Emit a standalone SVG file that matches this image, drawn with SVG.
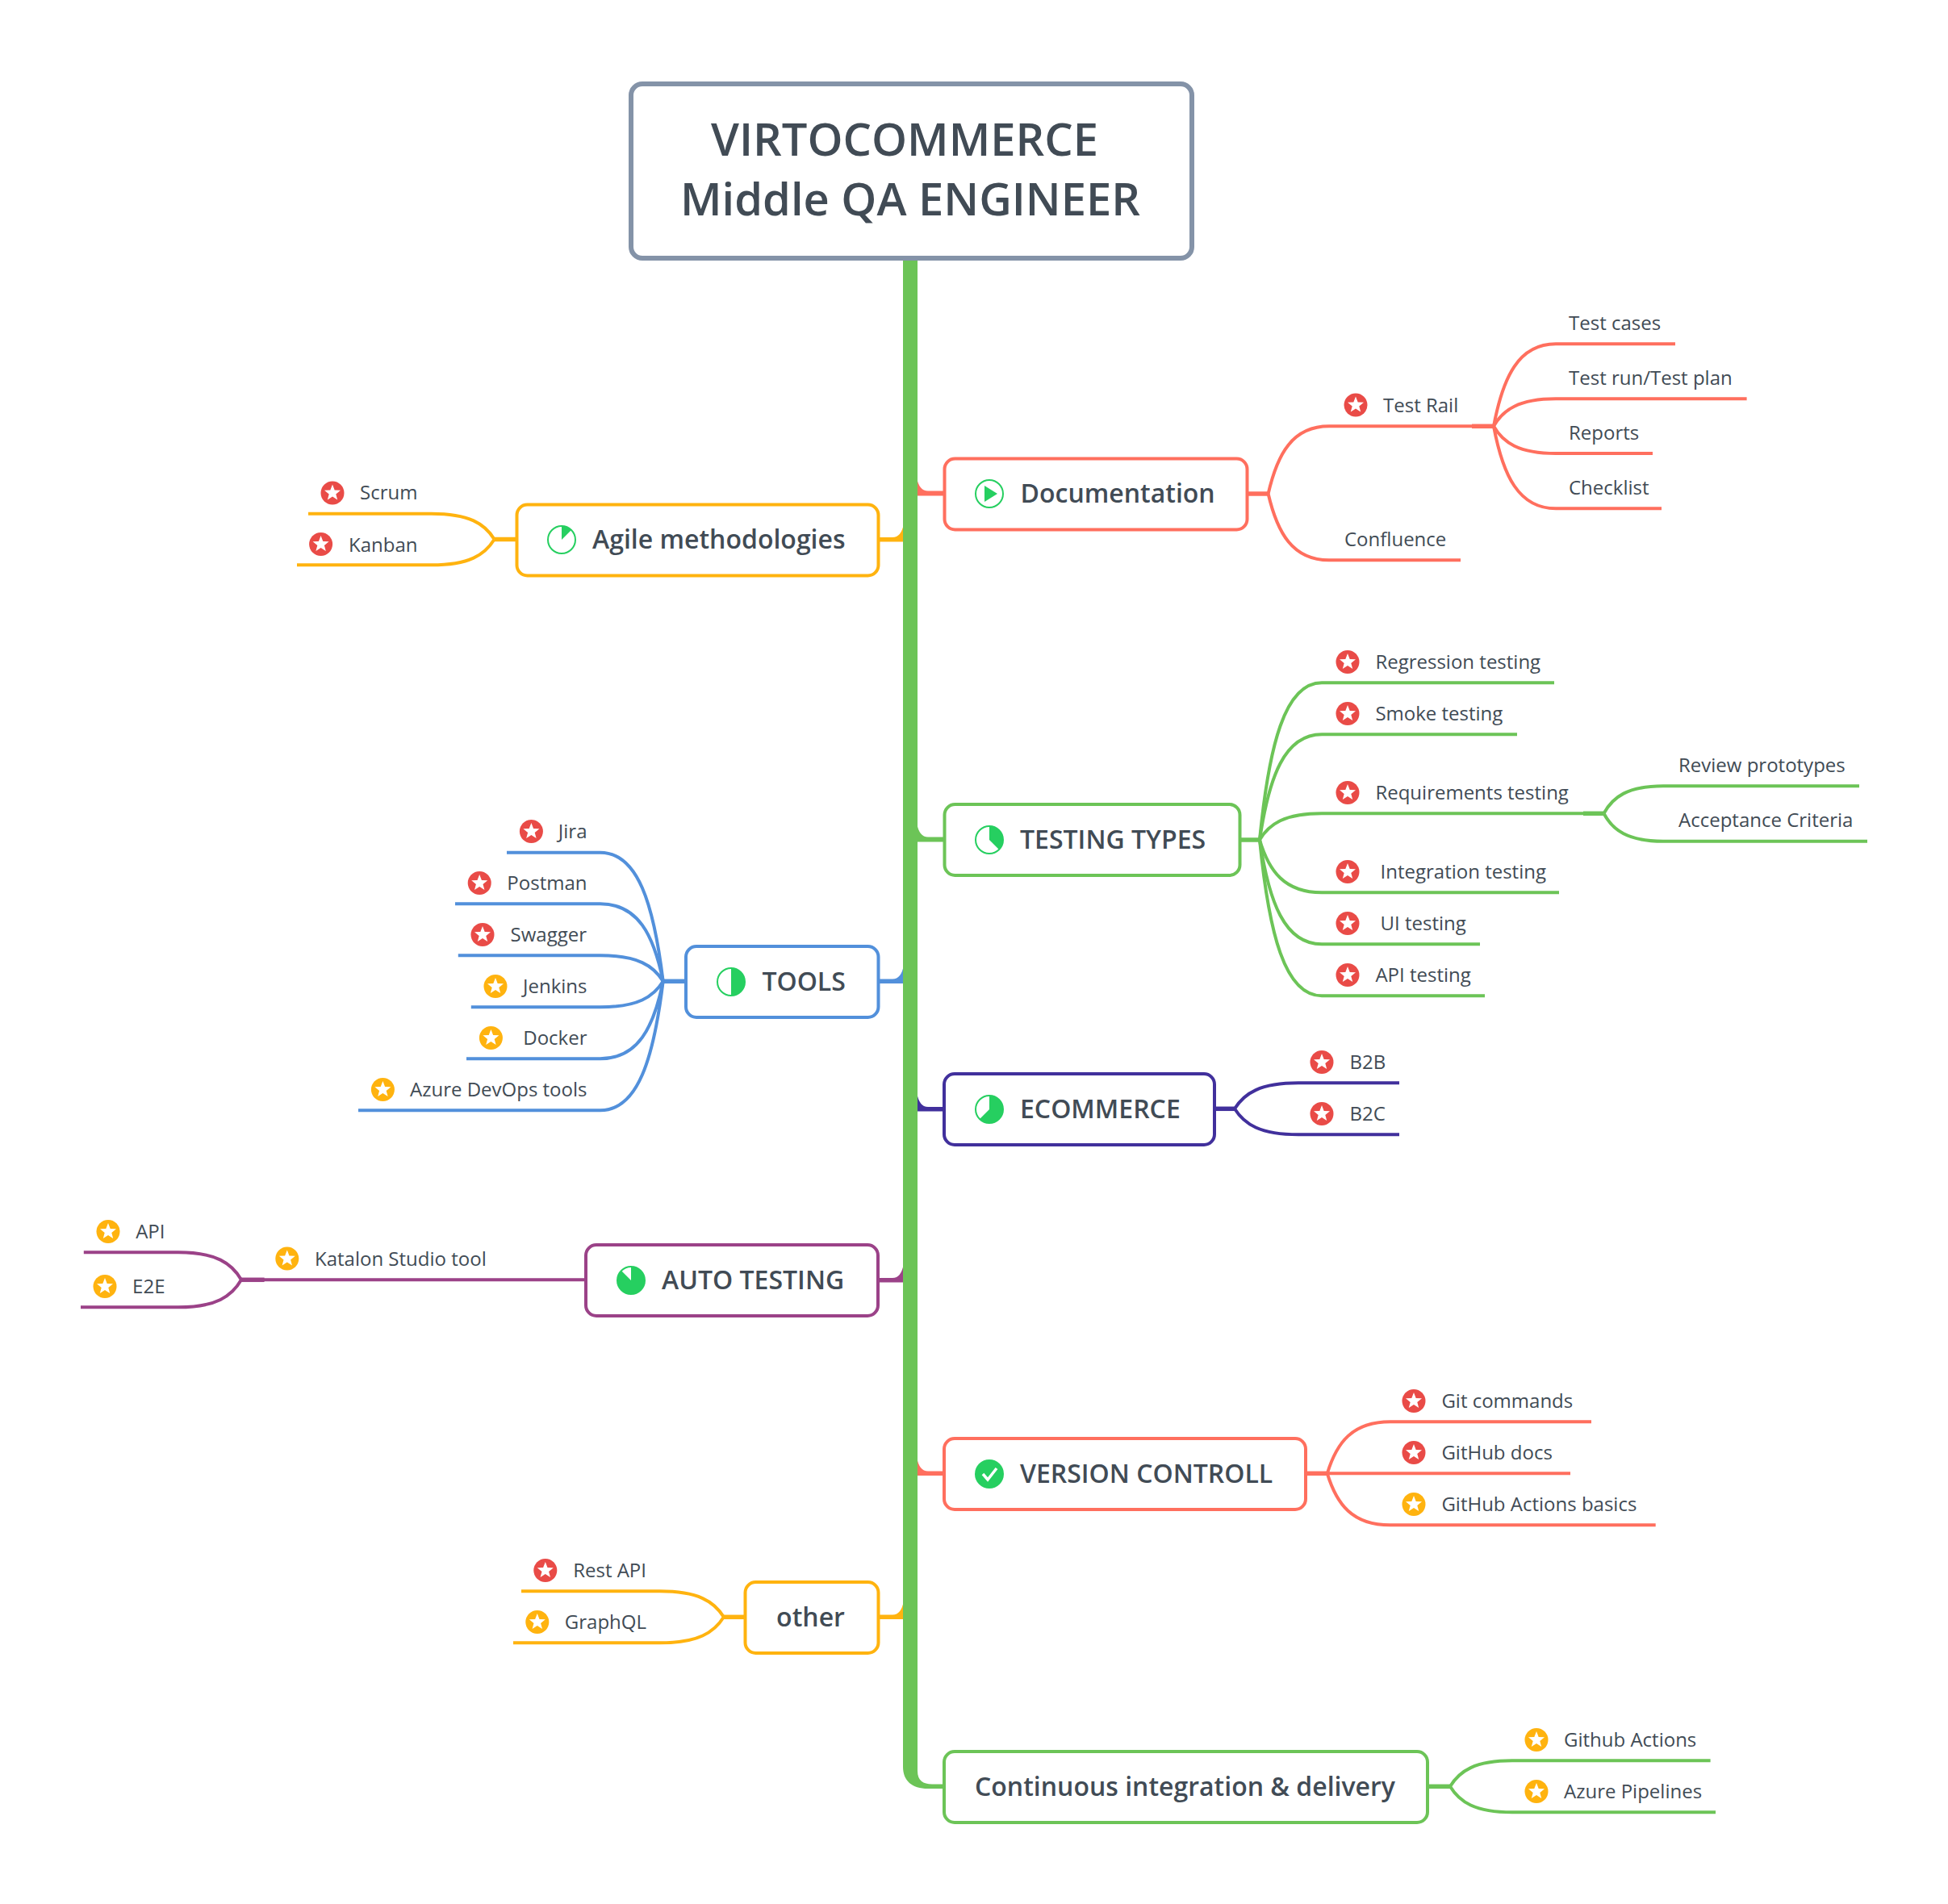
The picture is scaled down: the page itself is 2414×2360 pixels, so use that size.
<svg xmlns="http://www.w3.org/2000/svg" xmlns:xlink="http://www.w3.org/1999/xlink" width="2414" height="2360" viewBox="0 0 2414 2360">
<style>
text{font-family:"Open Sans","Noto Sans","Liberation Sans",sans-serif;fill:#414B55}
.leaf{font-size:24px;font-weight:400}
.end{text-anchor:end}
.topic{font-size:32px;font-weight:600}
.title{font-size:56px;font-weight:600;text-anchor:middle}
.box{fill:#fff;stroke-width:4}
.line{fill:none;stroke-width:4}
.stub{fill:none;stroke-width:5.5}
.coral{stroke:#FF6F5E}.amber{stroke:#FFB30F}.green{stroke:#6CC457}.blue{stroke:#5290DB}.navy{stroke:#41309C}.plum{stroke:#9B4288}
.fcoral{fill:#FF6F5E}.famber{fill:#FFB30F}.fgreen{fill:#6CC457}.fblue{fill:#5290DB}.fnavy{fill:#41309C}.fplum{fill:#9B4288}
.pr{fill:#fff;stroke:#26CF60;stroke-width:2}
.prf{fill:#26CF60}
</style>
<defs>
<polygon id="starshape" points="0,-10.5 2.7,-3.5 10,-3.2 4.3,1.4 6.2,8.5 0,4.5 -6.2,8.5 -4.3,1.4 -10,-3.2 -2.7,-3.5" fill="#fff"/>
<g id="sr"><circle r="14.5" fill="#E94B47"/><use xlink:href="#starshape" href="#starshape"/></g>
<g id="so"><circle r="14.5" fill="#FFB30F"/><use xlink:href="#starshape" href="#starshape"/></g>
</defs>
<rect width="2414" height="2360" fill="#fff"/>
<g id="connectors">
<g class="fcoral">
<path d="M1170 608.5H1150Q1139 608.5 1136 592V614.5H1170Z"/>
<path d="M1170 1823.5H1150Q1139 1823.5 1136 1806V1829H1170Z"/>
</g>
<path class="fgreen" d="M1170 1037.5H1150Q1139 1037.5 1136 1020V1043.5H1170Z"/>
<path class="fnavy" d="M1170 1372H1150Q1139 1372 1136 1354V1377.5H1170Z"/>
<path class="famber" d="M1088 666H1106Q1117 666 1120 649V671.5H1088Z"/>
<path class="fblue" d="M1088 1213.5H1106Q1117 1213.5 1120 1196V1219H1088Z"/>
<path class="fplum" d="M1088 1584H1106Q1117 1584 1120 1566V1589.5H1088Z"/>
<path class="famber" d="M1088 2001.5H1106Q1117 2001.5 1120 1984V2007H1088Z"/>
<path class="fgreen" d="M1119 320H1137V2195C1137 2207 1144 2211.5 1155 2211.5H1172V2217H1150C1130 2217 1119 2207 1119 2190Z"/>
<g class="coral">
<path class="stub" d="M1546 612H1572"/>
<path class="line" d="M1571.6 612C1583 562 1602 528.3 1647 528.3H1824"/>
<path class="line" d="M1571.6 612C1583 661 1602 694.3 1647 694.3H1810"/>
<path class="stub" d="M1824 528.3H1851"/>
<path class="line" d="M1851 528.3C1862.5 467 1882 426.3 1928 426.3H2076"/>
<path class="line" d="M1851 528.3C1862.5 508 1882 494.3 1928 494.3H2164.6"/>
<path class="line" d="M1851 528.3C1862.5 548.5 1882 562 1928 562H2048"/>
<path class="line" d="M1851 528.3C1862.5 589.5 1882 630.3 1928 630.3H2059"/>
<path class="stub" d="M1618 1826.3H1645"/>
<path class="line" d="M1644.8 1826.3C1656.5 1787.9 1676 1762.3 1722.7 1762.3H1972"/>
<path class="line" d="M1644.8 1826.3H1946"/>
<path class="line" d="M1644.8 1826.3C1656.5 1864.7 1676 1890.3 1722.7 1890.3H2051.7"/>
</g>
<g class="green">
<path class="stub" d="M1537 1041H1561"/>
<path class="line" d="M1561 1041C1572.5 924 1592 846.3 1638 846.3H1926"/>
<path class="line" d="M1561 1041C1572.5 962.6 1592 910.3 1638 910.3H1880"/>
<path class="line" d="M1561 1041C1572.5 1021.4 1592 1008.3 1638 1008.3H1962"/>
<path class="line" d="M1561 1041C1572.5 1080 1592 1106.3 1638 1106.3H1932"/>
<path class="line" d="M1561 1041C1572.5 1118.6 1592 1170.3 1638 1170.3H1834"/>
<path class="line" d="M1561 1041C1572.5 1157 1592 1234.3 1638 1234.3H1840"/>
<path class="stub" d="M1962 1008.3H1987.5"/>
<path class="line" d="M1987.5 1008.3C1998.5 987.9 2017 974.3 2061 974.3H2304"/>
<path class="line" d="M1987.5 1008.3C1998.5 1029 2017 1042.7 2061 1042.7H2314"/>
<path class="stub" d="M1769 2214.3H1797"/>
<path class="line" d="M1797 2214.3C1808.6 2195 1827.8 2182.3 1874 2182.3H2119.6"/>
<path class="line" d="M1797 2214.3C1808.6 2233.5 1827.8 2246.3 1874 2246.3H2126"/>
</g>
<g class="amber">
<path class="stub" d="M640 668.5H612.6"/>
<path class="line" d="M612.6 668.5C600.9 649.4 581.5 636.7 534.7 636.7H382"/>
<path class="line" d="M612.6 668.5C600.9 687.6 581.5 700.3 534.7 700.3H368"/>
<path class="stub" d="M923 2004.3H896.9"/>
<path class="line" d="M896.9 2004.3C885 1985 865.2 1972.3 817.7 1972.3H646"/>
<path class="line" d="M896.9 2004.3C885 2023.5 865.2 2036.3 817.7 2036.3H636"/>
</g>
<g class="blue">
<path class="stub" d="M850 1216.3H821.7"/>
<path class="line" d="M821.7 1216.3C810 1120.5 790.5 1056.7 743.8 1056.7H628"/>
<path class="line" d="M821.7 1216.3C810 1158.7 790.5 1120.3 743.8 1120.3H564"/>
<path class="line" d="M821.7 1216.3C810 1197 790.5 1184.3 743.8 1184.3H567.8"/>
<path class="line" d="M821.7 1216.3C810 1235.5 790.5 1248.3 743.8 1248.3H583.8"/>
<path class="line" d="M821.7 1216.3C810 1273.9 790.5 1312.3 743.8 1312.3H578"/>
<path class="line" d="M821.7 1216.3C810 1312.3 790.5 1376.3 743.8 1376.3H444"/>
</g>
<g class="navy">
<path class="stub" d="M1505 1374.3H1530"/>
<path class="line" d="M1530 1374.3C1541.9 1355 1561.6 1342.3 1609 1342.3H1734"/>
<path class="line" d="M1530 1374.3C1541.9 1393.5 1561.6 1406.3 1609 1406.3H1734"/>
</g>
<g class="plum">
<path class="line" d="M726 1586.3H327"/>
<path class="stub" d="M327.6 1586.3H299"/>
<path class="line" d="M299 1586.3C287.3 1565.9 267.8 1552.3 220.9 1552.3H103.8"/>
<path class="line" d="M299 1586.3C287.3 1606.7 267.8 1620.3 220.9 1620.3H100"/>
</g>
</g>
<g id="root"><rect x="782" y="104" width="695" height="216" rx="14" fill="#fff" stroke="#8493A8" stroke-width="6"/><text class="title" x="1121" y="192.5">VIRTOCOMMERCE</text><text class="title" x="1128" y="266.5">Middle QA ENGINEER</text></g>
<g id="documentation"><rect class="box coral" x="1170.5" y="568.5" width="375" height="88" rx="13"/><circle class="pr" cx="1226" cy="612" r="17"/><polygon class="prf" points="1220,602 1220,622 1236,612"/><text class="topic" x="1264.5" y="623">Documentation</text></g>
<g id="agile"><rect class="box amber" x="640.5" y="625.5" width="448" height="88" rx="13"/><circle class="pr" cx="696" cy="669" r="17"/><path class="prf" d="M696 669V652A17 17 0 0 1 708 657Z"/><text class="topic" x="734" y="680">Agile methodologies</text></g>
<g id="testing-types"><rect class="box green" x="1170.5" y="997" width="366" height="88" rx="13"/><circle class="pr" cx="1226" cy="1041" r="17"/><path class="prf" d="M1226 1041V1024A17 17 0 0 1 1238 1053Z"/><text class="topic" x="1264" y="1052">TESTING TYPES</text></g>
<g id="tools"><rect class="box blue" x="850" y="1173" width="238.5" height="88" rx="13"/><circle class="pr" cx="906" cy="1217" r="17"/><path class="prf" d="M906 1200A17 17 0 0 1 906 1234Z"/><text class="topic" x="944.4" y="1228">TOOLS</text></g>
<g id="ecommerce"><rect class="box navy" x="1170" y="1331" width="335" height="88" rx="13"/><circle class="pr" cx="1226" cy="1375" r="17"/><path class="prf" d="M1226 1375V1358A17 17 0 1 1 1214 1387Z"/><text class="topic" x="1264" y="1386">ECOMMERCE</text></g>
<g id="auto-testing"><rect class="box plum" x="726" y="1543" width="362" height="88" rx="13"/><circle class="pr" cx="782" cy="1587" r="17"/><path class="prf" d="M782 1587V1570A17 17 0 1 1 770 1575Z"/><text class="topic" x="820" y="1598">AUTO TESTING</text></g>
<g id="version-controll"><rect class="box coral" x="1170" y="1783" width="448" height="88" rx="13"/><circle class="prf" cx="1226" cy="1827" r="18"/><path d="M1218 1827L1224 1834L1235 1820" fill="none" stroke="#fff" stroke-width="3.5"/><text class="topic" x="1264" y="1838">VERSION CONTROLL</text></g>
<g id="other"><rect class="box amber" x="923.5" y="1961" width="165" height="88" rx="13"/><text class="topic" x="1004.5" y="2016" text-anchor="middle">other</text></g>
<g id="ci-cd"><rect class="box green" x="1170" y="2171" width="599" height="88" rx="13"/><text class="topic" x="1208" y="2226">Continuous integration &amp; delivery</text></g>
<g id="test-rail"><use href="#sr" x="1680" y="502"/><text class="leaf" x="1714" y="511">Test Rail</text></g>
<g id="confluence"><text class="leaf" x="1666" y="677">Confluence</text></g>
<g id="test-cases"><text class="leaf" x="1944" y="409">Test cases</text></g>
<g id="test-run"><text class="leaf" x="1944" y="477">Test run/Test plan</text></g>
<g id="reports"><text class="leaf" x="1944" y="545">Reports</text></g>
<g id="checklist"><text class="leaf" x="1944" y="613">Checklist</text></g>
<g id="scrum"><use href="#sr" x="412" y="611"/><text class="leaf end" x="517.5" y="619">Scrum</text></g>
<g id="kanban"><use href="#sr" x="397.6" y="674.5"/><text class="leaf end" x="517.5" y="683.5">Kanban</text></g>
<g id="regression"><use href="#sr" x="1670" y="820.5"/><text class="leaf" x="1704.4" y="829">Regression testing</text></g>
<g id="smoke"><use href="#sr" x="1670" y="884.5"/><text class="leaf" x="1704.4" y="893">Smoke testing</text></g>
<g id="requirements"><use href="#sr" x="1670" y="982.5"/><text class="leaf" x="1704.4" y="991">Requirements testing</text></g>
<g id="integration"><use href="#sr" x="1670" y="1080.5"/><text class="leaf" x="1710.5" y="1089">Integration testing</text></g>
<g id="ui"><use href="#sr" x="1670" y="1144.5"/><text class="leaf" x="1710.5" y="1153">UI testing</text></g>
<g id="api-testing"><use href="#sr" x="1670" y="1208.5"/><text class="leaf" x="1704.4" y="1217">API testing</text></g>
<g id="review"><text class="leaf" x="2080" y="957">Review prototypes</text></g>
<g id="acceptance"><text class="leaf" x="2080" y="1025">Acceptance Criteria</text></g>
<g id="jira"><use href="#sr" x="658.4" y="1030.5"/><text class="leaf end" x="727.5" y="1039">Jira</text></g>
<g id="postman"><use href="#sr" x="594.2" y="1094.5"/><text class="leaf end" x="727.5" y="1103">Postman</text></g>
<g id="swagger"><use href="#sr" x="598" y="1158.5"/><text class="leaf end" x="727" y="1167">Swagger</text></g>
<g id="jenkins"><use href="#so" x="614" y="1222.5"/><text class="leaf end" x="727.5" y="1231">Jenkins</text></g>
<g id="docker"><use href="#so" x="608.4" y="1286.5"/><text class="leaf end" x="727.5" y="1295">Docker</text></g>
<g id="azure-devops"><use href="#so" x="474.4" y="1350.5"/><text class="leaf end" x="727.5" y="1359">Azure DevOps tools</text></g>
<g id="b2b"><use href="#sr" x="1638" y="1316.5"/><text class="leaf" x="1672.5" y="1325">B2B</text></g>
<g id="b2c"><use href="#sr" x="1638" y="1380.5"/><text class="leaf" x="1672.5" y="1389">B2C</text></g>
<g id="katalon"><use href="#so" x="355.8" y="1560"/><text class="leaf" x="390" y="1569">Katalon Studio tool</text></g>
<g id="api"><use href="#so" x="134" y="1526.5"/><text class="leaf end" x="204.5" y="1535">API</text></g>
<g id="e2e"><use href="#so" x="130" y="1594.5"/><text class="leaf end" x="204.5" y="1603">E2E</text></g>
<g id="git-commands"><use href="#sr" x="1752" y="1736.5"/><text class="leaf" x="1786.4" y="1745">Git commands</text></g>
<g id="github-docs"><use href="#sr" x="1752" y="1800.5"/><text class="leaf" x="1786.4" y="1809">GitHub docs</text></g>
<g id="github-actions-basics"><use href="#so" x="1752" y="1864.5"/><text class="leaf" x="1786.4" y="1873">GitHub Actions basics</text></g>
<g id="rest-api"><use href="#sr" x="675.8" y="1946.5"/><text class="leaf end" x="801" y="1955">Rest API</text></g>
<g id="graphql"><use href="#so" x="665.8" y="2010.5"/><text class="leaf end" x="801" y="2019">GraphQL</text></g>
<g id="github-actions"><use href="#so" x="1904" y="2156.5"/><text class="leaf" x="1938" y="2165">Github Actions</text></g>
<g id="azure-pipelines"><use href="#so" x="1904" y="2220.5"/><text class="leaf" x="1938" y="2229">Azure Pipelines</text></g>
</svg>
